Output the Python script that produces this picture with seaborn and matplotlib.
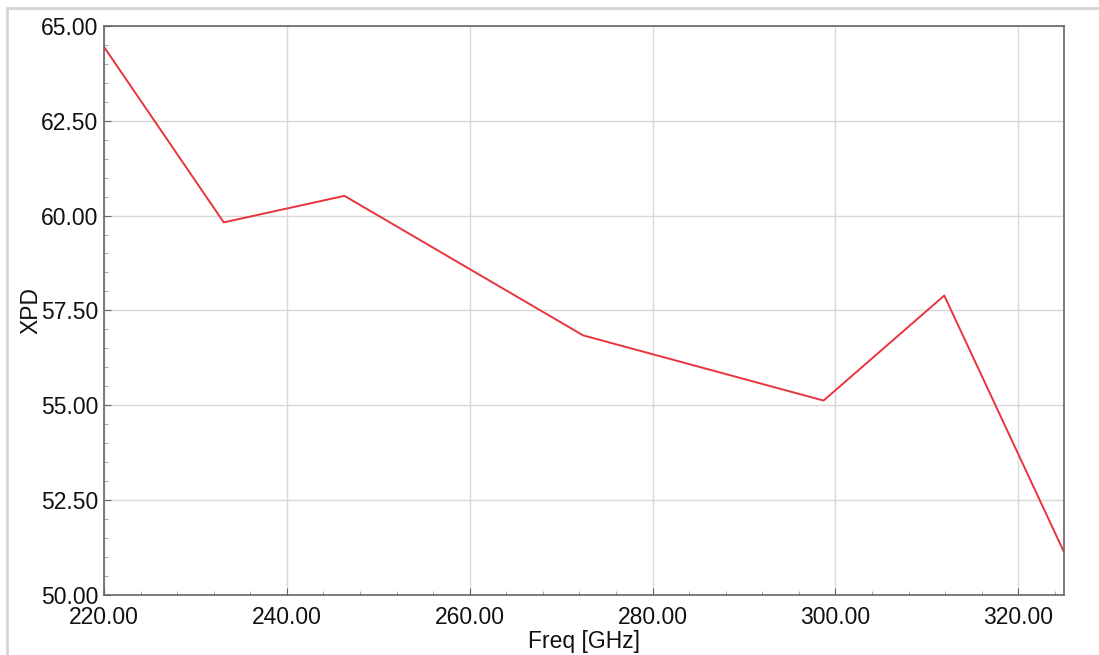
import pandas as pd
import matplotlib
matplotlib.use("Agg")
import matplotlib.pyplot as plt
import seaborn as sns
from matplotlib.patches import Rectangle
from matplotlib.ticker import MultipleLocator, FormatStrFormatter

# values
freq_ghz = [220.0, 233.1, 246.3, 272.4, 298.7, 311.9, 325.0]
xpd_db = [64.45, 59.82, 60.52, 56.84, 55.12, 57.89, 51.12]

x_ticks = [220, 240, 260, 280, 300, 320]
y_ticks = [50.0, 52.5, 55.0, 57.5, 60.0, 62.5, 65.0]

df = pd.DataFrame({"Freq": freq_ghz, "XPD": xpd_db})

sns.set_style("white")
plt.rcParams["font.family"] = ["Liberation Sans", "DejaVu Sans"]

fig = plt.figure(figsize=(10.99, 6.55), dpi=100)
ax = fig.add_axes([0.0946, 0.0921, 0.8736, 0.8682])

# light outer frame of the exported window
fig.patches.append(Rectangle((7 / 1099, -0.05), 1.2, 1 - 8 / 655 + 0.05,
                             transform=fig.transFigure, fill=False,
                             edgecolor="#d4d4d4", linewidth=2))

sns.lineplot(data=df, x="Freq", y="XPD", ax=ax, color="#e8343c",
             linewidth=1.4, sort=False)

ax.set_xlim(220, 325)
ax.set_ylim(50, 65)
ax.set_xticks(x_ticks)
ax.set_yticks(y_ticks)
ax.xaxis.set_minor_locator(MultipleLocator(4))
ax.yaxis.set_minor_locator(MultipleLocator(0.5))
ax.xaxis.set_major_formatter(FormatStrFormatter("%.2f"))
ax.yaxis.set_major_formatter(FormatStrFormatter("%.2f"))

ax.grid(True, which="major", color="#d8d8d8", linewidth=1.0)
ax.set_axisbelow(True)

for s in ax.spines.values():
    s.set_color("#666666")
    s.set_linewidth(1.2)

ax.tick_params(which="both", bottom=True, left=True, top=False, right=False)
ax.tick_params(axis="both", which="major", direction="in", length=5,
               color="#666666", labelsize=16.5, labelcolor="#111111")
ax.tick_params(axis="both", which="minor", direction="in", length=3,
               color="#999999")
ax.tick_params(axis="x", which="major", pad=8)
ax.tick_params(axis="y", which="major", pad=4)

ax.set_xlabel("Freq [GHz]", fontsize=16.5, color="#111111", labelpad=1)
ax.set_ylabel("XPD", fontsize=16.5, color="#111111", labelpad=-1)

fig.savefig("out.png", dpi=100, facecolor="white")
